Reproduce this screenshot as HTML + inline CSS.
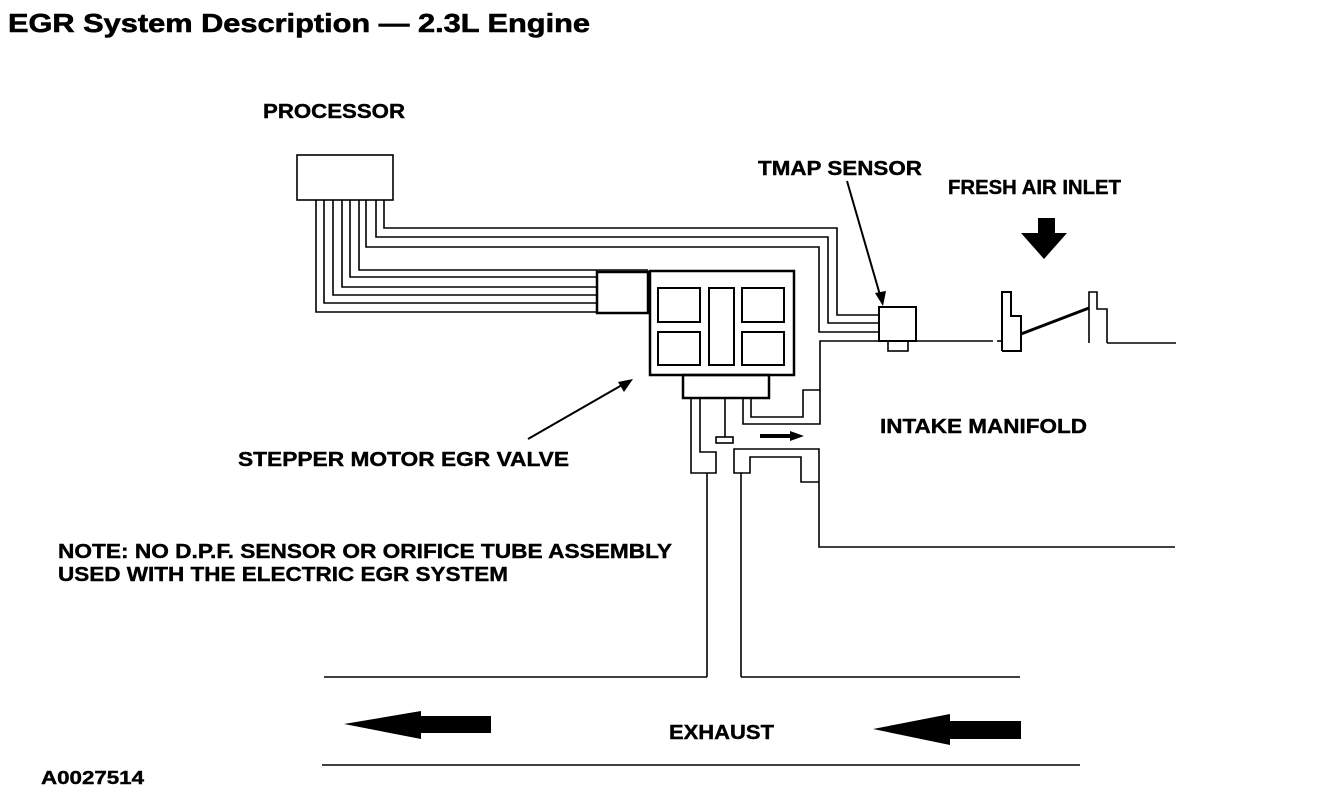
<!DOCTYPE html>
<html><head><meta charset="utf-8"><style>html,body{margin:0;padding:0;background:#fff}svg{display:block}</style></head>
<body>
<svg width="1344" height="810" viewBox="0 0 1344 810" xmlns="http://www.w3.org/2000/svg" font-family="Liberation Sans, Arial, sans-serif" font-weight="bold">
<rect width="1344" height="810" fill="#fff"/>
<text x="8" y="32" font-size="26" stroke="#000" stroke-width="0.6" textLength="582" lengthAdjust="spacingAndGlyphs">EGR System Description — 2.3L Engine</text>
<g font-size="20" stroke="#000" stroke-width="0.4">
<text x="263" y="118" textLength="142" lengthAdjust="spacingAndGlyphs">PROCESSOR</text>
<text x="758" y="175" textLength="164" lengthAdjust="spacingAndGlyphs">TMAP SENSOR</text>
<text x="948" y="194" textLength="173" lengthAdjust="spacingAndGlyphs">FRESH AIR INLET</text>
<text x="880" y="433" textLength="207" lengthAdjust="spacingAndGlyphs">INTAKE MANIFOLD</text>
<text x="238" y="466" textLength="331" lengthAdjust="spacingAndGlyphs">STEPPER MOTOR EGR VALVE</text>
<text x="58" y="558" textLength="614" lengthAdjust="spacingAndGlyphs">NOTE: NO D.P.F. SENSOR OR ORIFICE TUBE ASSEMBLY</text>
<text x="58" y="581" textLength="450" lengthAdjust="spacingAndGlyphs">USED WITH THE ELECTRIC EGR SYSTEM</text>
<text x="669" y="739" textLength="105" lengthAdjust="spacingAndGlyphs">EXHAUST</text>
</g>
<text x="41" y="784" font-size="18" stroke="#000" stroke-width="0.4" textLength="103" lengthAdjust="spacingAndGlyphs">A0027514</text>

<g fill="none" stroke="#000" stroke-width="1.6">
<rect x="297" y="155" width="96" height="45"/>
<polyline points="316,200 316,312 597,312"/>
<polyline points="324,200 324,303 597,303"/>
<polyline points="333,200 333,295 597,295"/>
<polyline points="342,200 342,287 597,287"/>
<polyline points="350,200 350,277 597,277"/>
<polyline points="359,200 359,270 648,270"/>
<polyline points="366,200 366,247 819,247 819,332 879,332"/>
<polyline points="376,200 376,237 828,237 828,323 879,323"/>
<polyline points="384,200 384,228 837,228 837,315 879,315"/>
<polyline points="751,398 751,417 803,417 803,390 820,390 820,341 879,341"/>
<polyline points="743,398 743,424 820,424 820,390"/>
<rect x="879" y="307" width="37" height="34" stroke-width="2"/>
<rect x="888" y="341" width="20" height="10"/>
<line x1="916" y1="341" x2="993" y2="341"/>
<line x1="997" y1="341" x2="1002" y2="341"/>
<line x1="1107" y1="343" x2="1176" y2="343"/>
<polyline points="1002,351 1002,292 1011,292 1011,316 1021,316 1021,351 1002,351" stroke-width="2"/>
<polyline points="1089,343 1089,292 1097,292 1097,309 1107,309 1107,343"/>
<line x1="1021" y1="334" x2="1089" y2="308" stroke-width="3"/>
<rect x="597" y="272" width="51" height="41" stroke-width="2.5"/>
<rect x="650" y="271" width="144" height="104" stroke-width="2.5"/>
<rect x="658" y="288" width="42" height="34" stroke-width="2"/>
<rect x="658" y="332" width="42" height="33" stroke-width="2"/>
<rect x="709" y="288" width="25" height="77" stroke-width="2"/>
<rect x="742" y="288" width="42" height="34" stroke-width="2"/>
<rect x="742" y="332" width="42" height="33" stroke-width="2"/>
<rect x="683" y="375" width="86" height="23" stroke-width="2.5"/>
<polyline points="700,398 700,452 716,452 716,473 691,473 691,398"/>
<line x1="707" y1="473" x2="707" y2="677"/>
<line x1="725" y1="398" x2="725" y2="437"/>
<rect x="716" y="437" width="17" height="6"/>
<polyline points="741,677 741,473 734,473 734,449 819,449 819,547 1175,547"/>
<polyline points="741,473 750,473 750,457 801,457 801,482 819,482"/>
<line x1="324" y1="677" x2="707" y2="677"/>
<line x1="741" y1="677" x2="1020" y2="677"/>
<line x1="322" y1="765" x2="1080" y2="765"/>
<line x1="847" y1="181" x2="880" y2="295" stroke-width="2"/>
<line x1="528" y1="439" x2="622" y2="385" stroke-width="2"/>
</g>
<g fill="#000">
<polygon points="883,306 875,293 886,291"/>
<polygon points="633,379 618,382 624,392"/>
<rect x="760" y="434" width="30" height="4"/>
<polygon points="790,431 804,436 790,441"/>
<rect x="1038" y="218" width="17" height="16"/>
<polygon points="1021,233 1067,233 1044,259"/>
<rect x="950" y="721" width="71" height="18"/>
<polygon points="873,729 950,714 950,745"/>
<rect x="421" y="716" width="70" height="17"/>
<polygon points="344,724 421,711 421,739"/>
</g>
</svg>
</body></html>
